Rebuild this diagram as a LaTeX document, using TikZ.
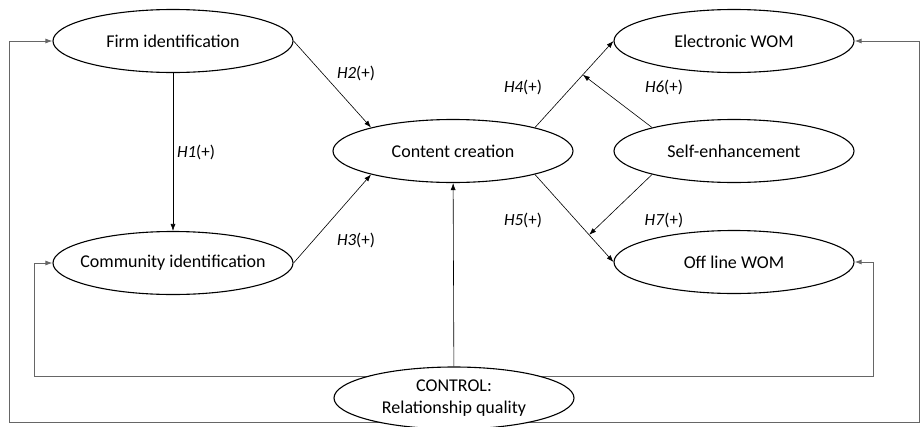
\documentclass[tikz,border=0pt]{standalone}
\usepackage{fontspec}
\setmainfont{Carlito}
\usetikzlibrary{shapes.geometric,arrows.meta,calc,backgrounds}
\begin{document}
\begin{tikzpicture}[x=1pt,y=-1pt,
  var/.style={ellipse,draw,line width=1.1pt,fill=white,minimum width=240pt,minimum height=63pt,inner xsep=-14pt,inner ysep=0pt,font=\fontsize{18}{22}\selectfont,align=center},
  arr/.style={line width=0.6pt,-{Latex[length=7pt,width=5pt]}},
  ctl/.style={line width=0.9pt,draw=black!60},
  ctla/.style={ctl,-{Latex[length=7pt,width=5pt]}},
  lab/.style={font=\fontsize{17}{20}\selectfont}
]
\useasboundingbox (0,0) rectangle (921,426);
\node[var] (firm) at (173,41) {Firm identification};
\node[var] (comm) at (173,263) {Community identification};
\node[var] (cont) at (453,151) {Content creation};
\node[var] (ewom) at (734,41) {Electronic WOM};
\node[var] (self) at (734,151) {Self-enhancement};
\node[var] (owom) at (734,262) {Off line WOM};
\node[var,minimum height=62pt] (ctrl) at (454,398) {CONTROL:\\Relationship quality};

\begin{scope}[on background layer]
\draw[ctla] (ctrl.center |- 0,376) -- (34,376) |- (comm.west);
\draw[ctla] (ctrl.center |- 0,376) -- (873,376) |- (owom.east);
\draw[ctla] (ctrl.center |- 0,422) -- (9,422) |- (firm.west);
\draw[ctla] (ctrl.center |- 0,422) -- (919.5,422) |- (ewom.east);
\end{scope}

\draw[arr] (firm) -- (comm);
\draw[arr] (firm.east) -- (cont.164);
\draw[arr] (comm.east) -- (cont.196);
\draw[arr] (cont.16) -- (ewom.west);
\draw[arr] (cont.-16) -- (owom.west);
\coordinate (m6) at ($(cont.16)!0.61!(ewom.west)$);
\coordinate (m7) at ($(cont.-16)!0.69!(owom.west)$);
\draw[arr] (self.164) -- (m6);
\draw[arr] (self.196) -- (m7);
\draw[arr] (ctrl) -- (cont);

\node[lab] (l1) at (196,152) {\textit{H1}(+)};
\node[lab] (l2) at (356,73) {\textit{H2}(+)};
\node[lab] (l3) at (356,240) {\textit{H3}(+)};
\node[lab] (l4) at (523,87) {\textit{H4}(+)};
\node[lab] (l6) at (664,87) {\textit{H6}(+)};
\node[lab] (l5) at (523,220) {\textit{H5}(+)};
\node[lab] (l7) at (664,220) {\textit{H7}(+)};
\end{tikzpicture}
\end{document}
